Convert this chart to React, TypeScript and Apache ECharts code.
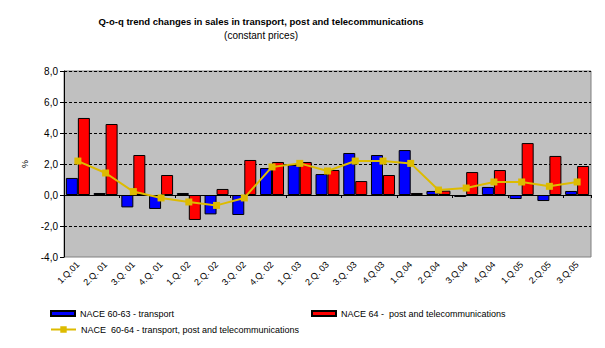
import React, { useEffect, useRef } from "react";
import * as echarts from "echarts";

const categories = ["1.Q.01", "2.Q. 01", "3.Q. 01", "4.Q. 01", "1.Q. 02", "2.Q. 02", "3.Q. 02", "4.Q. 02", "1.Q. 03", "2.Q. 03", "3.Q. 03", "4.Q.03", "1.Q.04", "2.Q.04", "3.Q.04", "4.Q.04", "1.Q.05", "2.Q.05", "3.Q.05"];
const transport = [1.1, 0.13, -0.8, -0.9, 0.13, -1.25, -1.29, 1.74, 1.94, 1.35, 2.71, 2.58, 2.9, 0.26, -0.13, 0.52, -0.26, -0.39, 0.26];
const postTel = [4.97, 4.58, 2.58, 1.29, -1.61, 0.39, 2.26, 2.13, 2.13, 1.61, 0.9, 1.29, 0.13, 0.28, 1.48, 1.61, 3.35, 2.52, 1.87];
const total = [2.19, 1.42, 0.22, -0.19, -0.45, -0.67, -0.19, 1.81, 2.04, 1.55, 2.19, 2.19, 2.04, 0.32, 0.45, 0.84, 0.84, 0.56, 0.84];

const nameTransport = "NACE 60-63 - transport";
const namePost = "NACE 64 -  post and telecommunications";
const nameTotal = "NACE  60-64 - transport, post and telecommunications";
const titleText = "Q-o-q trend changes in sales in transport, post and telecommunications";
const subTitleText = "(constant prices)";

const FONT = "'Liberation Sans', Arial, sans-serif";

export default function App() {
  const ref = useRef<HTMLDivElement>(null);
  useEffect(() => {
    document.body.style.margin = "0";
    const chart = echarts.init(ref.current!, null, { renderer: "svg" });
    const legendText = { fontFamily: FONT, fontSize: 9, color: "#000" };
    chart.setOption({
      animation: false,
      backgroundColor: "#fff",
      textStyle: { fontFamily: FONT },
      graphic: [
        { type: "text", x: 261, y: 21, style: { text: titleText, textAlign: "center", textVerticalAlign: "middle", font: `bold 9.5px ${FONT}`, fill: "#000" } },
        { type: "text", x: 261, y: 35, style: { text: subTitleText, textAlign: "center", textVerticalAlign: "middle", font: `10px ${FONT}`, fill: "#000" } },
      ],
      grid: { left: 64, right: 14, top: 71, bottom: 91, show: true, backgroundColor: "#C0C0C0", borderColor: "#808080", borderWidth: 1 },
      legend: [
        { data: [nameTransport], left: 50, top: 309, padding: 0, itemWidth: 24, itemHeight: 5, textStyle: legendText, icon: "rect" },
        { data: [namePost], left: 311, top: 309, padding: 0, itemWidth: 24, itemHeight: 5, textStyle: legendText, icon: "rect" },
        { data: [nameTotal], left: 50, top: 325, padding: 0, itemWidth: 25, itemHeight: 8, textStyle: legendText },
      ],
      xAxis: [
        {
          type: "category",
          data: categories,
          position: "bottom",
          axisLine: { show: false, onZero: false },
          axisTick: { show: false },
          axisLabel: { rotate: 45, fontSize: 9, fontFamily: FONT, color: "#000", margin: 6, interval: 0 },
        },
        {
          type: "category",
          data: categories,
          position: "bottom",
          axisLine: { show: true, onZero: true, lineStyle: { color: "#000", width: 1 } },
          axisTick: { show: true, length: 3, lineStyle: { color: "#000" } },
          axisLabel: { show: false },
        },
      ],
      yAxis: {
        type: "value",
        min: -4,
        max: 8,
        interval: 2,
        name: "%",
        nameLocation: "middle",
        nameGap: 34,
        nameTextStyle: { fontSize: 9, fontFamily: FONT, color: "#000" },
        axisLine: { show: true, lineStyle: { color: "#000" } },
        axisTick: { show: true, length: 4, lineStyle: { color: "#000" } },
        axisLabel: { fontSize: 10, fontFamily: FONT, color: "#000", margin: 6, formatter: (v: number) => v.toFixed(1).replace(".", ",") },
        splitLine: { show: true, showMinLine: false, lineStyle: { color: "#000", type: [3, 2], width: 1 } },
      },
      series: [
        {
          name: nameTransport,
          type: "bar",
          data: transport,
          barWidth: 12,
          barGap: "0%",
          itemStyle: { color: "#0000FF", borderColor: "#000", borderWidth: 1 },
        },
        {
          name: namePost,
          type: "bar",
          data: postTel,
          barWidth: 12,
          barGap: "0%",
          itemStyle: { color: "#FF0000", borderColor: "#000", borderWidth: 1 },
        },
        {
          name: nameTotal,
          type: "line",
          data: total,
          symbol: "rect",
          symbolSize: 7,
          lineStyle: { color: "#DDBB00", width: 2 },
          itemStyle: { color: "#DDBB00" },
          z: 5,
        },
      ],
    });
    return () => chart.dispose();
  }, []);
  return <div ref={ref} style={{ width: 605, height: 348 }} />;
}
